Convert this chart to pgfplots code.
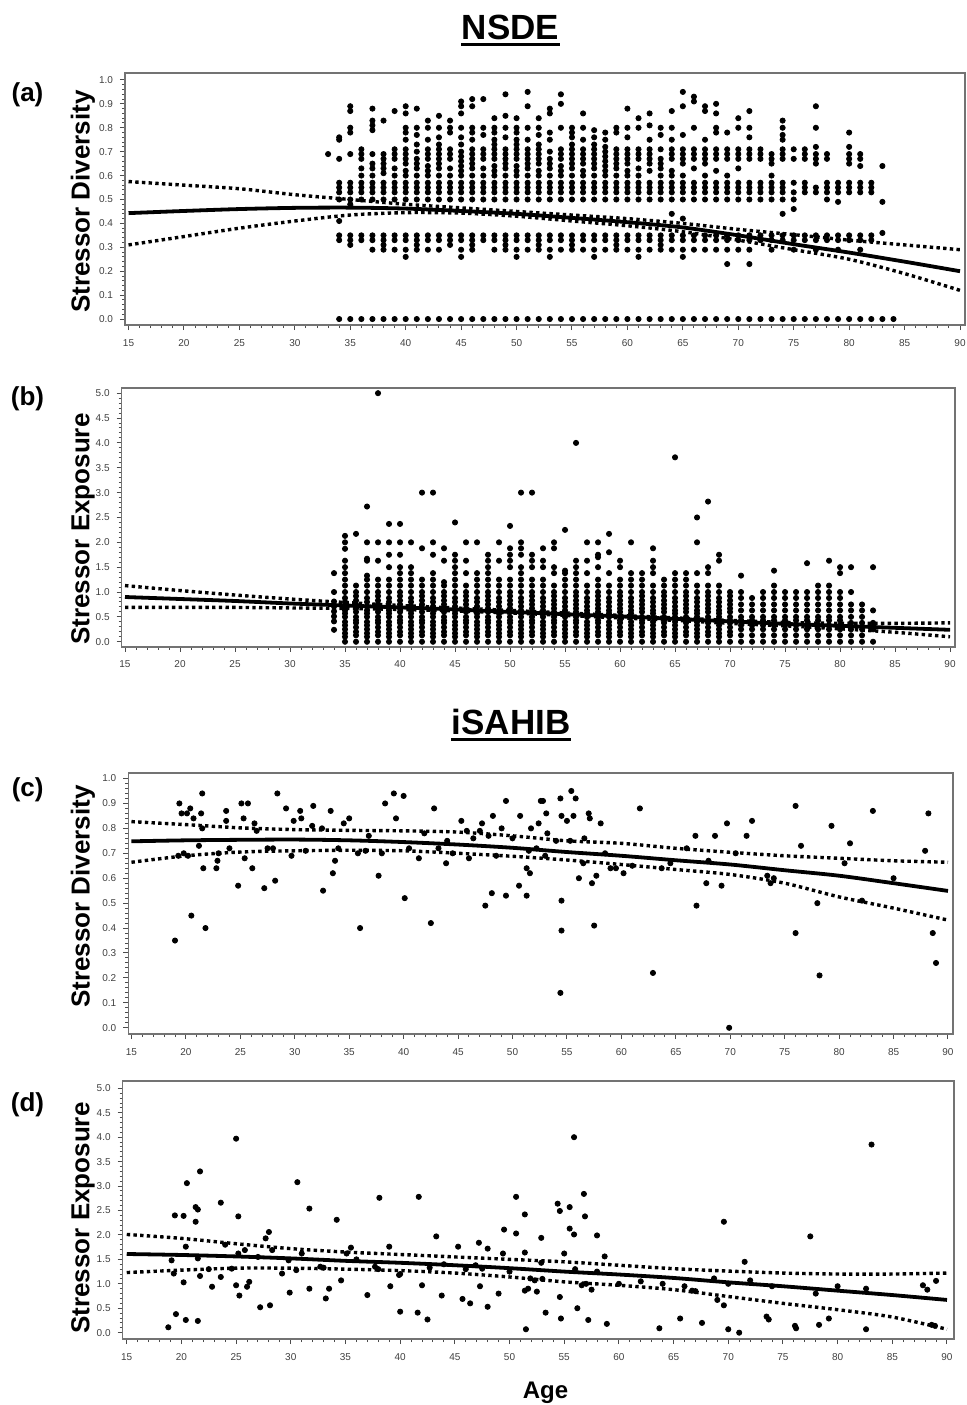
\documentclass[border=0pt]{standalone}
\usepackage{fontspec}
\setmainfont{Liberation Sans}
\usepackage{pgfplots}
\pgfplotsset{compat=1.18}

\pgfplotsset{
  panel/.style={
    scale only axis, anchor=north west,
    axis line style={draw=black!55, line width=0.8pt},
    tick align=outside, xtick pos=bottom, ytick pos=left,
    major tick length=2.5pt, minor tick length=1.5pt,
    every tick/.append style={black!70, line width=0.5pt},
    minor tick num=4,
    xtick={15,20,25,30,35,40,45,50,55,60,65,70,75,80,85,90},
    tick label style={font=\fontsize{5}{6}\selectfont, text=black!75},
    xticklabel style={anchor=north, text height=3.6pt, text depth=0pt, yshift=-1pt},
    /pgf/number format/assume math mode=true,
    yticklabel style={/pgf/number format/.cd, fixed, fixed zerofill, precision=1},
  },
  pts/.style={only marks, mark=*, mark size=1.3pt, black},
  fit/.style={no marks, smooth, black, line width=1.9pt},
  ci/.style={no marks, smooth, black, line width=1.7pt, dash pattern=on 1.7pt off 1.65pt},
}

\begin{document}
\begin{tikzpicture}
\useasboundingbox (0pt,0pt) rectangle (483pt,-702.5pt);

% (a) NSDE stressor diversity
\begin{axis}[panel, at={(62.5pt,-36.5pt)}, width=420pt, height=126pt,
  xmin=14.68, xmax=90.45, ymin=-0.025, ymax=1.029, ytick={0,0.1,0.2,0.3,0.4,0.5,0.6,0.7,0.8,0.9,1.0}]
\addplot[pts] coordinates {
(33,.69)
(34,0)(34,.33)(34,.35)(34,.41)(34,.5)(34,.53)(34,.55)(34,.57)(34,.67)(34,.75)(34,.76)
(35,0)(35,.31)(35,.33)(35,.35)(35,.48)(35,.5)(35,.53)(35,.55)(35,.57)(35,.69)(35,.78)(35,.8)(35,.87)(35,.89)
(36,0)(36,.33)(36,.35)(36,.5)(36,.53)(36,.55)(36,.57)(36,.6)(36,.63)(36,.67)(36,.69)(36,.71)
(37,0)(37,.29)(37,.33)(37,.35)(37,.5)(37,.53)(37,.55)(37,.57)(37,.6)(37,.63)(37,.65)(37,.69)(37,.79)(37,.81)(37,.83)(37,.88)
(38,0)(38,.29)(38,.31)(38,.33)(38,.35)(38,.5)(38,.53)(38,.55)(38,.57)(38,.61)(38,.63)(38,.65)(38,.67)(38,.69)(38,.83)
(39,0)(39,.29)(39,.33)(39,.35)(39,.5)(39,.53)(39,.55)(39,.57)(39,.6)(39,.63)(39,.67)(39,.69)(39,.71)(39,.87)
(40,0)(40,.26)(40,.29)(40,.33)(40,.35)(40,.5)(40,.53)(40,.55)(40,.57)(40,.6)(40,.62)(40,.65)(40,.67)(40,.69)(40,.71)(40,.75)(40,.78)(40,.8)(40,.86)(40,.89)
(41,0)(41,.29)(41,.31)(41,.33)(41,.35)(41,.5)(41,.53)(41,.55)(41,.57)(41,.6)(41,.63)(41,.65)(41,.67)(41,.7)(41,.73)(41,.77)(41,.8)(41,.88)
(42,0)(42,.29)(42,.33)(42,.35)(42,.5)(42,.53)(42,.55)(42,.57)(42,.6)(42,.62)(42,.64)(42,.67)(42,.69)(42,.71)(42,.75)(42,.8)(42,.83)
(43,0)(43,.29)(43,.33)(43,.35)(43,.5)(43,.53)(43,.55)(43,.57)(43,.6)(43,.63)(43,.65)(43,.67)(43,.69)(43,.71)(43,.73)(43,.76)(43,.8)(43,.85)
(44,0)(44,.31)(44,.33)(44,.35)(44,.5)(44,.53)(44,.55)(44,.57)(44,.6)(44,.63)(44,.67)(44,.69)(44,.71)(44,.78)(44,.8)(44,.83)
(45,0)(45,.26)(45,.29)(45,.33)(45,.35)(45,.5)(45,.53)(45,.55)(45,.57)(45,.6)(45,.62)(45,.64)(45,.66)(45,.68)(45,.7)(45,.73)(45,.76)(45,.8)(45,.86)(45,.89)(45,.91)
(46,0)(46,.29)(46,.31)(46,.33)(46,.35)(46,.5)(46,.53)(46,.55)(46,.57)(46,.6)(46,.63)(46,.65)(46,.67)(46,.69)(46,.71)(46,.75)(46,.78)(46,.8)(46,.89)(46,.92)
(47,0)(47,.33)(47,.35)(47,.5)(47,.53)(47,.55)(47,.57)(47,.6)(47,.63)(47,.67)(47,.69)(47,.71)(47,.77)(47,.8)(47,.92)
(48,0)(48,.29)(48,.33)(48,.35)(48,.5)(48,.53)(48,.55)(48,.57)(48,.6)(48,.62)(48,.64)(48,.67)(48,.69)(48,.71)(48,.73)(48,.75)(48,.78)(48,.8)(48,.84)
(49,0)(49,.29)(49,.31)(49,.33)(49,.35)(49,.5)(49,.53)(49,.55)(49,.57)(49,.6)(49,.63)(49,.65)(49,.67)(49,.69)(49,.71)(49,.76)(49,.8)(49,.85)(49,.94)
(50,0)(50,.26)(50,.29)(50,.33)(50,.35)(50,.5)(50,.53)(50,.55)(50,.57)(50,.6)(50,.62)(50,.64)(50,.67)(50,.69)(50,.71)(50,.73)(50,.75)(50,.78)(50,.8)(50,.84)
(51,0)(51,.29)(51,.33)(51,.35)(51,.5)(51,.53)(51,.55)(51,.57)(51,.6)(51,.63)(51,.65)(51,.67)(51,.69)(51,.71)(51,.75)(51,.8)(51,.89)(51,.95)
(52,0)(52,.29)(52,.31)(52,.33)(52,.35)(52,.5)(52,.53)(52,.55)(52,.57)(52,.6)(52,.62)(52,.65)(52,.67)(52,.69)(52,.71)(52,.73)(52,.77)(52,.8)(52,.84)
(53,0)(53,.26)(53,.29)(53,.33)(53,.35)(53,.5)(53,.53)(53,.55)(53,.57)(53,.6)(53,.63)(53,.65)(53,.67)(53,.7)(53,.75)(53,.78)(53,.86)(53,.88)
(54,0)(54,.29)(54,.33)(54,.35)(54,.5)(54,.53)(54,.55)(54,.57)(54,.6)(54,.62)(54,.64)(54,.67)(54,.69)(54,.71)(54,.8)(54,.9)(54,.94)
(55,0)(55,.29)(55,.31)(55,.33)(55,.35)(55,.5)(55,.53)(55,.55)(55,.57)(55,.6)(55,.63)(55,.65)(55,.67)(55,.69)(55,.71)(55,.73)(55,.76)(55,.78)(55,.8)
(56,0)(56,.29)(56,.33)(56,.35)(56,.5)(56,.53)(56,.55)(56,.57)(56,.6)(56,.62)(56,.65)(56,.67)(56,.69)(56,.71)(56,.75)(56,.8)(56,.86)
(57,0)(57,.26)(57,.29)(57,.33)(57,.35)(57,.5)(57,.53)(57,.55)(57,.57)(57,.6)(57,.63)(57,.65)(57,.67)(57,.69)(57,.71)(57,.73)(57,.76)(57,.79)
(58,0)(58,.29)(58,.33)(58,.35)(58,.5)(58,.53)(58,.55)(58,.57)(58,.6)(58,.62)(58,.64)(58,.66)(58,.68)(58,.7)(58,.72)(58,.75)(58,.78)
(59,0)(59,.29)(59,.31)(59,.33)(59,.35)(59,.5)(59,.53)(59,.55)(59,.57)(59,.6)(59,.63)(59,.65)(59,.67)(59,.69)(59,.71)(59,.78)(59,.8)
(60,0)(60,.29)(60,.33)(60,.35)(60,.5)(60,.53)(60,.55)(60,.57)(60,.6)(60,.62)(60,.65)(60,.67)(60,.69)(60,.71)(60,.76)(60,.8)(60,.88)
(61,0)(61,.26)(61,.29)(61,.33)(61,.35)(61,.5)(61,.53)(61,.55)(61,.57)(61,.6)(61,.63)(61,.67)(61,.69)(61,.71)(61,.8)(61,.84)
(62,0)(62,.29)(62,.33)(62,.35)(62,.5)(62,.53)(62,.55)(62,.57)(62,.62)(62,.65)(62,.67)(62,.69)(62,.71)(62,.75)(62,.81)(62,.86)
(63,0)(63,.29)(63,.31)(63,.33)(63,.35)(63,.5)(63,.53)(63,.55)(63,.57)(63,.6)(63,.63)(63,.65)(63,.67)(63,.71)(63,.77)(63,.8)
(64,0)(64,.29)(64,.33)(64,.35)(64,.44)(64,.5)(64,.53)(64,.55)(64,.57)(64,.6)(64,.62)(64,.67)(64,.69)(64,.71)(64,.75)(64,.8)(64,.87)
(65,0)(65,.26)(65,.29)(65,.33)(65,.35)(65,.42)(65,.5)(65,.53)(65,.55)(65,.57)(65,.6)(65,.65)(65,.67)(65,.69)(65,.71)(65,.77)(65,.89)(65,.95)
(66,0)(66,.29)(66,.33)(66,.35)(66,.5)(66,.53)(66,.55)(66,.57)(66,.63)(66,.67)(66,.69)(66,.71)(66,.8)(66,.91)(66,.93)
(67,0)(67,.29)(67,.33)(67,.35)(67,.5)(67,.53)(67,.55)(67,.57)(67,.6)(67,.65)(67,.67)(67,.69)(67,.71)(67,.75)(67,.87)(67,.89)
(68,0)(68,.29)(68,.33)(68,.35)(68,.5)(68,.53)(68,.55)(68,.57)(68,.62)(68,.67)(68,.69)(68,.71)(68,.78)(68,.8)(68,.86)(68,.9)
(69,0)(69,.23)(69,.29)(69,.33)(69,.35)(69,.5)(69,.53)(69,.55)(69,.57)(69,.6)(69,.67)(69,.69)(69,.71)(69,.78)
(70,0)(70,.29)(70,.33)(70,.35)(70,.5)(70,.53)(70,.55)(70,.57)(70,.63)(70,.67)(70,.69)(70,.71)(70,.8)(70,.84)
(71,0)(71,.23)(71,.29)(71,.33)(71,.35)(71,.5)(71,.53)(71,.55)(71,.57)(71,.67)(71,.69)(71,.71)(71,.76)(71,.8)(71,.87)
(72,0)(72,.33)(72,.35)(72,.5)(72,.53)(72,.55)(72,.57)(72,.67)(72,.69)(72,.71)
(73,0)(73,.29)(73,.33)(73,.35)(73,.5)(73,.53)(73,.55)(73,.57)(73,.6)(73,.65)(73,.67)(73,.69)
(74,0)(74,.33)(74,.35)(74,.44)(74,.5)(74,.53)(74,.55)(74,.57)(74,.67)(74,.69)(74,.71)(74,.75)(74,.77)(74,.8)(74,.83)
(75,0)(75,.29)(75,.33)(75,.35)(75,.46)(75,.5)(75,.53)(75,.57)(75,.67)(75,.71)
(76,0)(76,.33)(76,.35)(76,.53)(76,.55)(76,.57)(76,.67)(76,.69)(76,.71)
(77,0)(77,.29)(77,.33)(77,.35)(77,.53)(77,.55)(77,.65)(77,.67)(77,.69)(77,.72)(77,.8)(77,.89)
(78,0)(78,.33)(78,.35)(78,.5)(78,.53)(78,.55)(78,.57)(78,.67)(78,.69)
(79,0)(79,.29)(79,.33)(79,.35)(79,.49)(79,.53)(79,.55)(79,.57)
(80,0)(80,.33)(80,.35)(80,.53)(80,.55)(80,.57)(80,.65)(80,.67)(80,.69)(80,.72)(80,.78)
(81,0)(81,.29)(81,.33)(81,.35)(81,.53)(81,.55)(81,.57)(81,.64)(81,.67)(81,.69)
(82,0)(82,.33)(82,.35)(82,.53)(82,.55)(82,.57)
(83,0)(83,.36)(83,.49)(83,.64)
(84,0)
};
\addplot[ci] coordinates {(15,.575)(20,.56)(25,.545)(30,.52)(35,.5)(40,.48)(45,.465)(50,.45)(55,.435)(60,.42)(65,.4)(70,.375)(75,.353)(80,.33)(85,.31)(90,.29)};
\addplot[ci] coordinates {(15,.31)(20,.345)(25,.38)(30,.41)(35,.435)(40,.445)(45,.443)(50,.43)(55,.41)(60,.39)(65,.365)(70,.33)(75,.29)(80,.25)(85,.19)(90,.12)};
\addplot[fit] coordinates {(15,.443)(20,.452)(25,.46)(30,.465)(35,.466)(40,.462)(45,.452)(50,.44)(55,.423)(60,.405)(65,.383)(70,.35)(75,.313)(80,.278)(85,.24)(90,.2)};
\end{axis}

% (b) NSDE stressor exposure
\begin{axis}[panel, at={(60.85pt,-193.85pt)}, width=416.65pt, height=129.5pt,
  xmin=14.7, xmax=90.45, ymin=-0.1, ymax=5.11, ytick={0,0.5,1,1.5,2,2.5,3,3.5,4,4.5,5}]
\addplot[pts] coordinates {
(34,.24)(34,.41)(34,.51)(34,.61)(34,.71)(34,.81)(34,1)(34,1.38)
(35,0)(35,.1)(35,.17)(35,.25)(35,.33)(35,.4)(35,.5)(35,.57)(35,.63)(35,.71)(35,.8)(35,.88)(35,1)(35,1.13)(35,1.25)(35,1.38)(35,1.5)(35,1.63)(35,1.87)(35,2)(35,2.13)
(36,0)(36,.13)(36,.2)(36,.29)(36,.38)(36,.43)(36,.5)(36,.6)(36,.67)(36,.75)(36,.83)(36,.92)(36,1)(36,1.13)(36,2.17)
(37,0)(37,.1)(37,.17)(37,.25)(37,.33)(37,.4)(37,.5)(37,.57)(37,.63)(37,.71)(37,.8)(37,.88)(37,1)(37,1.13)(37,1.25)(37,1.33)(37,1.63)(37,1.67)(37,2)(37,2.72)
(38,0)(38,.13)(38,.2)(38,.29)(38,.38)(38,.43)(38,.5)(38,.6)(38,.67)(38,.75)(38,.83)(38,.92)(38,1)(38,1.13)(38,1.25)(38,1.63)(38,2)(38,5)
(39,0)(39,.1)(39,.17)(39,.25)(39,.33)(39,.4)(39,.5)(39,.57)(39,.63)(39,.71)(39,.8)(39,.88)(39,1)(39,1.13)(39,1.25)(39,1.5)(39,1.75)(39,2)(39,2.37)
(40,0)(40,.13)(40,.2)(40,.29)(40,.38)(40,.43)(40,.5)(40,.6)(40,.67)(40,.75)(40,.83)(40,.92)(40,1)(40,1.13)(40,1.25)(40,1.38)(40,1.5)(40,1.75)(40,2)(40,2.37)
(41,0)(41,.1)(41,.17)(41,.25)(41,.33)(41,.4)(41,.5)(41,.57)(41,.63)(41,.71)(41,.8)(41,.88)(41,1)(41,1.13)(41,1.25)(41,1.38)(41,1.5)(41,2)
(42,0)(42,.13)(42,.2)(42,.29)(42,.38)(42,.43)(42,.5)(42,.6)(42,.67)(42,.75)(42,.83)(42,.92)(42,1)(42,1.13)(42,1.25)(42,1.88)(42,3)
(43,0)(43,.1)(43,.17)(43,.25)(43,.33)(43,.4)(43,.5)(43,.57)(43,.63)(43,.71)(43,.8)(43,.88)(43,1)(43,1.13)(43,1.25)(43,1.38)(43,1.75)(43,2)(43,3)
(44,0)(44,.13)(44,.2)(44,.29)(44,.38)(44,.43)(44,.5)(44,.6)(44,.67)(44,.75)(44,.83)(44,.92)(44,1)(44,1.13)(44,1.2)(44,1.63)(44,1.88)
(45,0)(45,.1)(45,.17)(45,.25)(45,.33)(45,.4)(45,.5)(45,.57)(45,.63)(45,.71)(45,.8)(45,.88)(45,1)(45,1.13)(45,1.25)(45,1.38)(45,1.5)(45,1.63)(45,1.75)(45,2.4)
(46,0)(46,.13)(46,.2)(46,.29)(46,.38)(46,.43)(46,.5)(46,.6)(46,.67)(46,.75)(46,.83)(46,.92)(46,1)(46,1.13)(46,1.38)(46,1.63)(46,2)
(47,0)(47,.1)(47,.17)(47,.25)(47,.33)(47,.4)(47,.5)(47,.57)(47,.63)(47,.71)(47,.8)(47,.88)(47,1)(47,1.13)(47,1.25)(47,1.38)(47,2)
(48,0)(48,.13)(48,.2)(48,.29)(48,.38)(48,.43)(48,.5)(48,.6)(48,.67)(48,.75)(48,.83)(48,.92)(48,1)(48,1.13)(48,1.25)(48,1.38)(48,1.5)(48,1.63)(48,1.75)
(49,0)(49,.1)(49,.17)(49,.25)(49,.33)(49,.4)(49,.5)(49,.57)(49,.63)(49,.71)(49,.8)(49,.88)(49,1)(49,1.13)(49,1.25)(49,1.63)(49,2)
(50,0)(50,.13)(50,.2)(50,.29)(50,.38)(50,.43)(50,.5)(50,.6)(50,.67)(50,.75)(50,.83)(50,.92)(50,1)(50,1.13)(50,1.25)(50,1.5)(50,1.63)(50,1.75)(50,1.88)(50,2.33)
(51,0)(51,.1)(51,.17)(51,.25)(51,.33)(51,.4)(51,.5)(51,.57)(51,.63)(51,.71)(51,.8)(51,.88)(51,1)(51,1.13)(51,1.25)(51,1.38)(51,1.5)(51,1.75)(51,1.88)(51,2)(51,3)
(52,0)(52,.13)(52,.2)(52,.29)(52,.38)(52,.43)(52,.5)(52,.6)(52,.67)(52,.75)(52,.83)(52,.92)(52,1)(52,1.13)(52,1.25)(52,1.5)(52,1.63)(52,1.75)(52,3)
(53,0)(53,.1)(53,.17)(53,.25)(53,.33)(53,.4)(53,.5)(53,.57)(53,.63)(53,.71)(53,.8)(53,.88)(53,1)(53,1.13)(53,1.25)(53,1.5)(53,1.63)(53,1.88)
(54,0)(54,.13)(54,.2)(54,.29)(54,.38)(54,.43)(54,.5)(54,.6)(54,.67)(54,.75)(54,.83)(54,.92)(54,1)(54,1.13)(54,1.38)(54,1.5)(54,1.88)(54,2)
(55,0)(55,.1)(55,.17)(55,.25)(55,.33)(55,.4)(55,.5)(55,.57)(55,.63)(55,.71)(55,.8)(55,.88)(55,1)(55,1.13)(55,1.25)(55,1.38)(55,1.43)(55,2.25)
(56,0)(56,.13)(56,.2)(56,.29)(56,.38)(56,.43)(56,.5)(56,.6)(56,.67)(56,.75)(56,.83)(56,.92)(56,1)(56,1.13)(56,1.25)(56,1.38)(56,1.5)(56,1.63)(56,4)
(57,0)(57,.1)(57,.17)(57,.25)(57,.33)(57,.4)(57,.5)(57,.57)(57,.63)(57,.71)(57,.8)(57,.88)(57,1)(57,1.13)(57,1.38)(57,1.63)(57,2)
(58,0)(58,.13)(58,.2)(58,.29)(58,.38)(58,.43)(58,.5)(58,.6)(58,.67)(58,.75)(58,.83)(58,.92)(58,1)(58,1.13)(58,1.25)(58,1.5)(58,1.7)(58,1.75)(58,2)
(59,0)(59,.1)(59,.17)(59,.25)(59,.33)(59,.4)(59,.5)(59,.57)(59,.63)(59,.71)(59,.8)(59,.88)(59,1)(59,1.13)(59,1.38)(59,1.8)(59,2.17)
(60,0)(60,.13)(60,.2)(60,.29)(60,.38)(60,.43)(60,.5)(60,.6)(60,.67)(60,.75)(60,.83)(60,.92)(60,1)(60,1.13)(60,1.25)(60,1.5)(60,1.63)
(61,0)(61,.1)(61,.17)(61,.25)(61,.33)(61,.4)(61,.5)(61,.57)(61,.63)(61,.71)(61,.8)(61,.88)(61,1)(61,1.13)(61,1.25)(61,1.38)(61,2)
(62,0)(62,.13)(62,.2)(62,.29)(62,.38)(62,.43)(62,.5)(62,.6)(62,.67)(62,.75)(62,.83)(62,.92)(62,1)(62,1.13)(62,1.25)(62,1.38)
(63,0)(63,.1)(63,.17)(63,.25)(63,.33)(63,.4)(63,.5)(63,.57)(63,.63)(63,.71)(63,.8)(63,.88)(63,1)(63,1.13)(63,1.38)(63,1.5)(63,1.63)(63,1.88)
(64,0)(64,.13)(64,.2)(64,.29)(64,.38)(64,.43)(64,.5)(64,.6)(64,.67)(64,.75)(64,.83)(64,.92)(64,1)(64,1.13)(64,1.25)
(65,0)(65,.1)(65,.17)(65,.25)(65,.33)(65,.4)(65,.5)(65,.57)(65,.63)(65,.71)(65,.8)(65,.88)(65,1)(65,1.13)(65,1.25)(65,1.38)(65,3.71)
(66,0)(66,.13)(66,.2)(66,.29)(66,.38)(66,.43)(66,.5)(66,.6)(66,.67)(66,.75)(66,.83)(66,.92)(66,1)(66,1.13)(66,1.25)(66,1.38)
(67,0)(67,.1)(67,.17)(67,.25)(67,.33)(67,.4)(67,.5)(67,.57)(67,.63)(67,.71)(67,.8)(67,.88)(67,1)(67,1.13)(67,1.38)(67,2)(67,2.5)
(68,0)(68,.13)(68,.2)(68,.29)(68,.38)(68,.43)(68,.5)(68,.6)(68,.67)(68,.75)(68,.83)(68,.92)(68,1)(68,1.13)(68,1.38)(68,1.5)(68,2.82)
(69,0)(69,.1)(69,.17)(69,.25)(69,.33)(69,.4)(69,.5)(69,.57)(69,.63)(69,.71)(69,.8)(69,.88)(69,1)(69,1.13)(69,1.63)(69,1.75)
(70,0)(70,.13)(70,.2)(70,.29)(70,.38)(70,.43)(70,.5)(70,.6)(70,.67)(70,.75)(70,.83)(70,.92)(70,1)
(71,0)(71,.13)(71,.25)(71,.33)(71,.43)(71,.5)(71,.63)(71,.75)(71,.88)(71,1)(71,1.33)
(72,0)(72,.13)(72,.25)(72,.33)(72,.43)(72,.5)(72,.63)(72,.75)(72,.88)
(73,0)(73,.13)(73,.25)(73,.33)(73,.43)(73,.5)(73,.63)(73,.75)(73,.88)(73,1)
(74,0)(74,.13)(74,.25)(74,.33)(74,.43)(74,.5)(74,.63)(74,.75)(74,.88)(74,1)(74,1.13)(74,1.43)
(75,0)(75,.13)(75,.25)(75,.33)(75,.43)(75,.5)(75,.63)(75,.75)(75,.88)(75,1)
(76,0)(76,.13)(76,.25)(76,.33)(76,.43)(76,.5)(76,.63)(76,.75)(76,.88)(76,1)
(77,0)(77,.13)(77,.25)(77,.33)(77,.43)(77,.5)(77,.63)(77,.75)(77,.88)(77,1)(77,1.58)
(78,0)(78,.13)(78,.25)(78,.33)(78,.43)(78,.5)(78,.63)(78,.75)(78,.88)(78,1)(78,1.13)
(79,0)(79,.13)(79,.25)(79,.33)(79,.43)(79,.5)(79,.63)(79,.75)(79,.88)(79,1)(79,1.13)(79,1.63)
(80,0)(80,.13)(80,.25)(80,.33)(80,.43)(80,.5)(80,.63)(80,.75)(80,.88)(80,1)(80,1.38)(80,1.5)
(81,0)(81,.13)(81,.25)(81,.38)(81,.5)(81,.63)(81,.75)(81,1)(81,1.5)
(82,0)(82,.13)(82,.25)(82,.38)(82,.5)(82,.63)(82,.75)
(83,0)(83,.25)(83,.38)(83,.63)(83,1.5)
};
\addplot[ci] coordinates {(15,1.13)(20,1.03)(25,.94)(30,.86)(35,.79)(40,.73)(45,.68)(50,.63)(55,.58)(60,.53)(65,.48)(70,.43)(75,.39)(80,.37)(85,.37)(90,.38)};
\addplot[ci] coordinates {(15,.69)(20,.69)(25,.69)(30,.68)(35,.67)(40,.65)(45,.62)(50,.58)(55,.53)(60,.48)(65,.43)(70,.37)(75,.32)(80,.26)(85,.19)(90,.1)};
\addplot[fit] coordinates {(15,.9)(20,.86)(25,.82)(30,.77)(35,.73)(40,.69)(45,.65)(50,.6)(55,.555)(60,.51)(65,.46)(70,.41)(75,.36)(80,.32)(85,.28)(90,.24)};
\end{axis}

% (c) iSAHIB stressor diversity
\begin{axis}[panel, at={(64.15pt,-386.5pt)}, width=412.35pt, height=130.5pt,
  xmin=14.71, xmax=90.46, ymin=-0.025, ymax=1.022, ytick={0,0.1,0.2,0.3,0.4,0.5,0.6,0.7,0.8,0.9,1.0}]
\addplot[pts] coordinates {
(19,.35)(19.4,.9)(19.6,.86)(19.3,.69)(19.8,.7)(20.4,.88)(20.1,.86)(20.5,.45)(20.7,.84)(20.2,.69)
(21.5,.94)(21.4,.86)(21.2,.73)(21.5,.8)(21.6,.64)(21.8,.4)(22.8,.64)(22.9,.67)(23.7,.87)(23.7,.83)
(24.8,.57)(25.1,.9)(25.7,.9)(25.3,.84)(25.4,.68)(26.1,.64)(26.3,.82)(27.2,.56)(28.2,.59)(28.4,.94)
(28,.72)(29.2,.88)(29.7,.69)(29.9,.83)(30.5,.87)(30.6,.84)(31.6,.81)(31.7,.89)(32.6,.55)(33.3,.87)
(33.7,.67)(33.5,.62)(34.5,.82)(35,.84)(35.8,.7)(36,.4)(36.8,.77)(37.7,.61)(38.3,.9)(39.1,.94)
(39.3,.84)(40,.93)(40.1,.52)(41.4,.68)(41.9,.78)(42.5,.42)(42.8,.88)(43.2,.72)(43.9,.66)(45.3,.83)
(45.8,.79)(46.4,.76)(47,.79)(47.2,.82)(47.5,.49)(47.8,.77)(48.2,.85)(48.1,.54)(49,.8)(49.4,.91)
(49.4,.53)(50.6,.57)(50.7,.85)(51.3,.53)(51.7,.8)(52.2,.72)(52.4,.82)(52.6,.91)(52.8,.91)(53.1,.86)
(53.2,.78)(51.3,.64)(51.6,.62)(51.5,.71)(54.4,.92)(54.5,.85)(54.5,.51)(54.5,.39)(54.4,.14)(55,.83)
(55.4,.95)(55.8,.92)(55.6,.85)(55.3,.75)(56.1,.6)(56.6,.76)(57,.86)(57.1,.84)(57.3,.58)(57.5,.41)
(57.7,.61)(58.1,.82)(59,.64)(60.2,.62)(61.7,.88)(62.9,.22)(63.7,.64)(66.8,.77)(66.9,.49)(67.8,.58)
(68.6,.77)(69.2,.57)(69.7,.82)(69.9,0)(71.5,.77)(72,.83)(73.4,.61)(73.7,.58)(76,.89)(76.5,.73)
(76,.38)(78.2,.21)(79.3,.81)(81,.74)(82.1,.51)(83.1,.87)(87.9,.71)(88.2,.86)(88.6,.38)(88.9,.26)
(23,.7)(24,.72)(26.5,.79)(27.5,.72)(31,.71)(32.5,.8)(34,.72)(36.5,.71)(38,.7)(40.5,.72)
(44,.75)(44.5,.7)(46,.68)(48.5,.69)(50,.76)(53,.69)(54,.75)(56.5,.66)(58.5,.7)(59.5,.64)
(61,.65)(64.5,.66)(66,.72)(68,.67)(70.5,.7)(74,.6)(78,.5)(80.5,.66)(85,.6)
};
\addplot[ci] coordinates {(15,.827)(20,.815)(25,.802)(30,.795)(35,.792)(40,.79)(45,.785)(50,.77)(55,.75)(60,.74)(65,.72)(70,.704)(75,.69)(80,.68)(85,.67)(90,.664)};
\addplot[ci] coordinates {(15,.664)(20,.69)(25,.705)(30,.71)(35,.712)(40,.71)(45,.70)(50,.688)(55,.673)(60,.655)(65,.635)(70,.615)(75,.58)(80,.525)(85,.48)(90,.432)};
\addplot[fit] coordinates {(15,.748)(20,.752)(25,.754)(30,.755)(35,.752)(40,.745)(45,.735)(50,.722)(55,.705)(60,.69)(65,.672)(70,.655)(75,.632)(80,.61)(85,.58)(90,.549)};
\end{axis}

% (d) iSAHIB stressor exposure
\begin{axis}[panel, at={(61.35pt,-540.5pt)}, width=415.65pt, height=129pt,
  xmin=14.63, xmax=90.64, ymin=-0.13, ymax=5.15, ytick={0,0.5,1,1.5,2,2.5,3,3.5,4,4.5,5}]
\addplot[pts] coordinates {
(18.8,.11)(19.1,1.48)(19.3,1.21)(19.4,2.4)(19.5,.38)(20.2,2.39)(20.5,3.06)(20.2,1.03)(20.4,.26)(20.4,1.76)
(21.3,2.57)(21.5,2.52)(21.3,2.27)(21.7,3.3)(21.5,.24)(21.5,1.52)(21.7,1.16)(22.8,.94)(23.6,2.66)(23.6,1.14)
(25,3.97)(25.2,2.38)(25,.97)(25.3,.76)(25.2,1.62)(24.6,1.31)(25.8,1.69)(26,.94)(26.2,1.04)(27.2,.52)
(27.7,1.93)(28,2.06)(28.1,.56)(28.3,1.69)(29.2,1.21)(29.9,.82)(29.8,1.48)(30.6,3.08)(30.5,1.28)(31.7,2.54)
(31.7,.9)(32.7,1.35)(33.2,.7)(33.5,.9)(34.2,2.31)(34.6,1.07)(35.5,1.74)(35.1,1.62)(37,.77)(37.7,1.35)
(38.1,2.76)(39,1.76)(39.1,.95)(39.9,1.18)(40,.43)(41.6,.41)(41.7,2.78)(42,.97)(42.5,.27)(42.7,1.33)
(43.3,1.97)(43.8,.76)(45.3,1.76)(45.7,.69)(46.4,.6)(46.9,1.38)(47.2,1.84)(47.3,.95)(47.5,1.31)(48,1.72)
(48,.53)(49,.8)(49.5,2.11)(49.4,1.62)(50.6,2.78)(50.6,2.03)(51.4,1.64)(51.4,2.42)(51.5,.07)(51.4,.86)
(51.7,.9)(51.9,1.11)(52.3,1.07)(52.5,.84)(52.9,1.94)(52.9,1.43)(53.3,.41)(54.4,2.64)(54.6,2.49)(54.6,.73)
(54.7,.29)(55,1.62)(55.5,2.57)(55.5,2.13)(55.9,4)(55.9,2.01)(56.2,.5)(56.6,.97)(56.8,2.84)(56.9,2.38)
(57.2,.26)(57.5,.88)(58,1.99)(58.7,1.56)(58.9,.18)(63.7,.09)(65.6,.29)(67.6,.2)(66.7,.86)(68.7,1.11)
(69,.67)(69.6,.56)(69.6,2.27)(70,.07)(71,0)(71.5,1.45)(72,1.07)(73.5,.33)(73.7,.27)(76.1,.14)
(76.2,.09)(77.5,1.97)(78.3,.16)(79.2,.29)(82.6,.07)(82.6,.9)(83.1,3.85)(87.8,.97)(88.2,.88)(88.6,.16)
(88.9,.14)(89,1.06)
(22.5,1.3)(24,1.8)(27,1.55)(31,1.62)(33,1.33)(36,1.5)(38,1.3)(40,1.2)(44,1.4)(46,1.3)
(50,1.25)(53,1.1)(56,1.3)(57,1)(58,1.25)(60,1)(62,1.05)(64,1)(66,.95)(67,.85)(70,1)(74,.95)(78,.8)(80,.95)
};
\addplot[ci] coordinates {(15,2.01)(20,1.93)(25,1.82)(30,1.72)(35,1.65)(40,1.6)(45,1.55)(50,1.5)(55,1.45)(60,1.38)(65,1.31)(70,1.26)(75,1.22)(80,1.2)(85,1.2)(90,1.22)};
\addplot[ci] coordinates {(15,1.23)(20,1.28)(25,1.32)(30,1.32)(35,1.3)(40,1.27)(45,1.22)(50,1.14)(55,1.04)(60,.97)(65,.88)(70,.74)(75,.6)(80,.47)(85,.32)(90,.07)};
\addplot[fit] coordinates {(15,1.61)(20,1.59)(25,1.56)(30,1.52)(35,1.47)(40,1.43)(45,1.38)(50,1.32)(55,1.25)(60,1.19)(65,1.12)(70,1.03)(75,.95)(80,.86)(85,.77)(90,.67)};
\end{axis}

% titles and labels
\node[font=\bfseries\fontsize{17.5}{20}\selectfont, inner sep=0, anchor=base] (t1) at (255.25pt,-19.5pt) {NSDE};
\draw[line width=1.5pt] ([yshift=-2.5pt]t1.base west) -- ([yshift=-2.5pt]t1.base east);
\node[font=\bfseries\fontsize{17.5}{20}\selectfont, inner sep=0, anchor=base] (t2) at (255.5pt,-367.25pt) {iSAHIB};
\draw[line width=1.5pt] ([yshift=-2.5pt]t2.base west) -- ([yshift=-2.5pt]t2.base east);

\node[font=\bfseries\fontsize{13}{15}\selectfont, inner sep=0] at (13.75pt,-47.25pt) {(a)};
\node[font=\bfseries\fontsize{13}{15}\selectfont, inner sep=0] at (13.75pt,-199.25pt) {(b)};
\node[font=\bfseries\fontsize{13}{15}\selectfont, inner sep=0] at (13.85pt,-395pt) {(c)};
\node[font=\bfseries\fontsize{13}{15}\selectfont, inner sep=0] at (13.75pt,-552.5pt) {(d)};

\node[font=\bfseries\fontsize{13}{15}\selectfont, inner sep=0, rotate=90] at (41.5pt,-100.75pt) {Stressor Diversity};
\node[font=\bfseries\fontsize{13}{15}\selectfont, inner sep=0, rotate=90] at (41.5pt,-264.5pt) {Stressor Exposure};
\node[font=\bfseries\fontsize{13}{15}\selectfont, inner sep=0, rotate=90] at (41.5pt,-448.35pt) {Stressor Diversity};
\node[font=\bfseries\fontsize{13}{15}\selectfont, inner sep=0, rotate=90] at (41.5pt,-609pt) {Stressor Exposure};

\node[font=\bfseries\fontsize{12}{14}\selectfont, inner sep=0, anchor=base] at (272.75pt,-699.25pt) {Age};
\end{tikzpicture}
\end{document}
